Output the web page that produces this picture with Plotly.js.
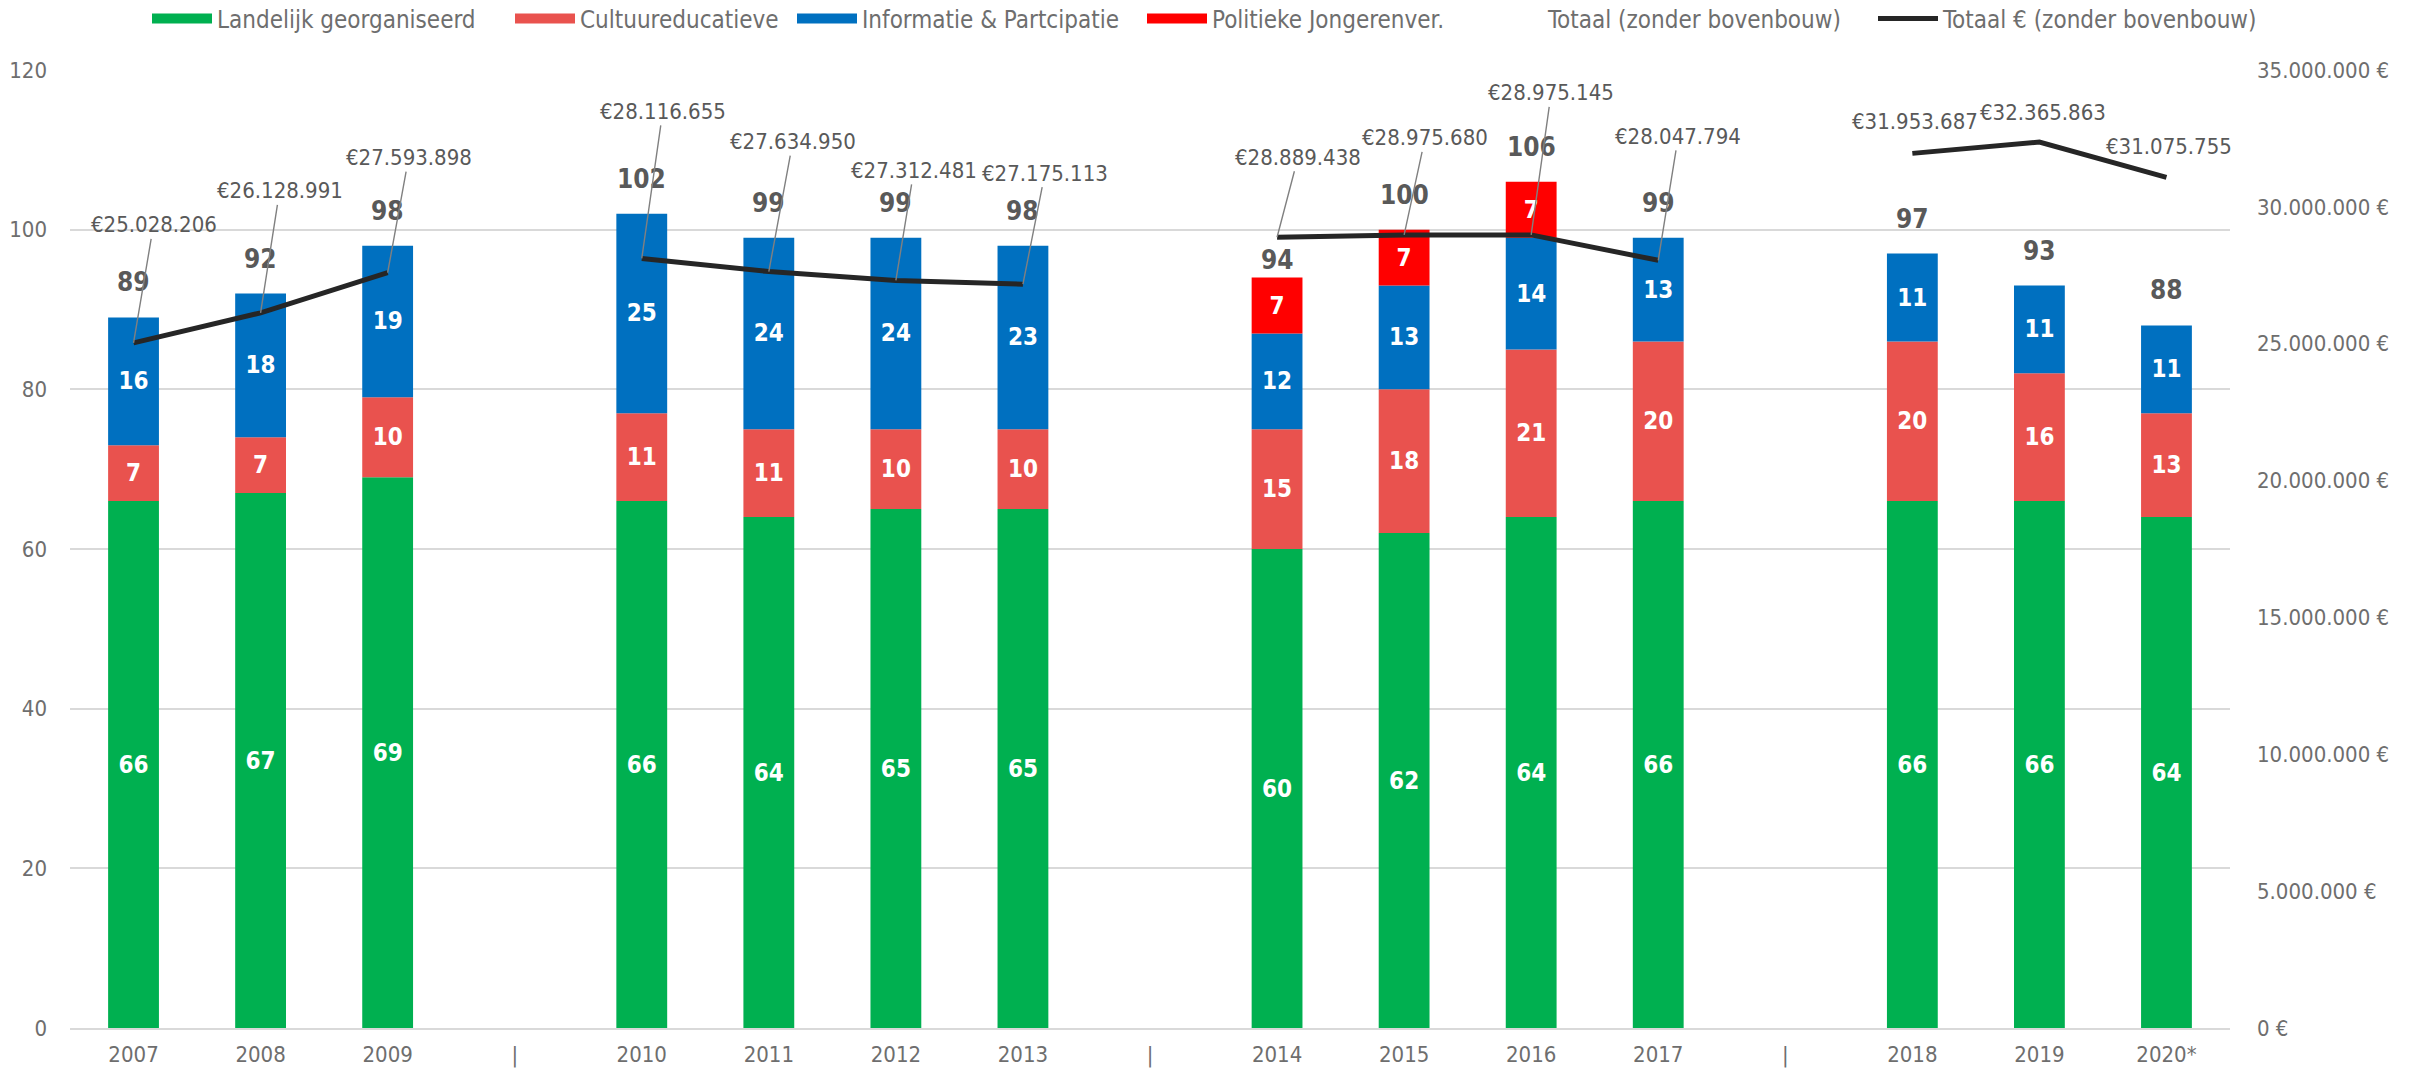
<!DOCTYPE html>
<html>
<head>
<meta charset="utf-8">
<script src="https://cdn.plot.ly/plotly-3.0.1.min.js"></script>
<style>
  html, body { margin: 0; padding: 0; background: #ffffff; }
  #chart { width: 2428px; height: 1070px; }
</style>
</head>
<body>
<div id="chart"></div>
<script>
// ---- data ----
const categories = ['2007','2008','2009','|','2010','2011','2012','2013','|','2014','2015','2016','2017','|','2018','2019','2020*'];
const landelijk  = [66, 67, 69, null, 66, 64, 65, 65, null, 60, 62, 64, 66, null, 66, 66, 64];
const cultuur    = [7, 7, 10, null, 11, 11, 10, 10, null, 15, 18, 21, 20, null, 20, 16, 13];
const informatie = [16, 18, 19, null, 25, 24, 24, 23, null, 12, 13, 14, 13, null, 11, 11, 11];
const politiek   = [null, null, null, null, null, null, null, null, null, 7, 7, 7, null, null, null, null, null];
const totaal     = [89, 92, 98, null, 102, 99, 99, 98, null, 94, 100, 106, 99, null, 97, 93, 88];
const totaalEuro = [25028206, 26128991, 27593898, null, 28116655, 27634950, 27312481, 27175113, null,
                    28889438, 28975680, 28975145, 28047794, null, 31953687, 32365863, 31075755];

const seriesNames = ['Landelijk georganiseerd', 'Cultuureducatieve', 'Informatie & Partcipatie', 'Politieke Jongerenver.',
                     'Totaal (zonder bovenbouw)', 'Totaal € (zonder bovenbouw)'];

// category positions on the axis (one slot per category label)
const xpos = categories.map((c, i) => i);

// ---- styling ----
const FONT = 'DejaVu Sans Condensed, DejaVu Sans, sans-serif';
const colors = { landelijk: '#00B050', cultuur: '#E9524E', informatie: '#0070C0', politiek: '#FF0000', line: '#262626' };
// label offsets (pixels) for the euro labels: [dx, dy, showLeader]
const euroLabelOffsets = [[20,-118,true],[19,-122,true],[21,-115,true],null,[21,-147,true],[24,-130,true],[18,-110,true],[22,-111,true],null,
                          [21,-80,true],[21,-97,true],[20,-142,true],[20,-124,true],null,[3,-32,false],[4,-30,false],[3,-31,false]];
// vertical gap (pixels) of the total labels above the bars
const totalLabelShift = [18,18,18,null,18,18,18,18,null,1,18,18,18,null,18,18,18];

function add(a, b) { return a.map((v, i) => (v == null || b[i] == null) ? v : v + b[i]); }
const baseLand = landelijk.map(v => v == null ? null : 0);
const baseCultuur = landelijk.slice();
const baseInfo = add(landelijk, cultuur);
const basePol = add(baseInfo, informatie);

function fmtEuro(v) { return '€' + String(v).replace(/\B(?=(\d{3})+(?!\d))/g, '.'); }

function segTrace(name, vals, base, color) {
  return {
    type: 'bar', name: name, x: xpos, y: vals, base: base,
    marker: { color: color, line: { width: 0 } },
    text: vals.map(v => v == null ? '' : String(v)),
    textposition: 'inside', insidetextanchor: 'middle', textangle: 0,
    constraintext: 'none',
    textfont: { family: FONT, size: 24, color: '#ffffff', weight: 'bold' },
    showlegend: false, hoverinfo: 'y+name'
  };
}
// legend-only swatch (wide rectangle like the original legend keys)
function legendKey(name, color, legend) {
  return {
    type: 'scatter', mode: 'lines', name: name, x: [null], y: [null],
    line: { color: color, width: 14 }, legend: legend, hoverinfo: 'skip'
  };
}

const traces = [
  segTrace(seriesNames[0], landelijk, baseLand, colors.landelijk),
  segTrace(seriesNames[1], cultuur, baseCultuur, colors.cultuur),
  segTrace(seriesNames[2], informatie, baseInfo, colors.informatie),
  segTrace(seriesNames[3], politiek, basePol, colors.politiek),
  {
    type: 'bar', name: seriesNames[4], x: xpos, y: totaal, base: totaal.map(v => v == null ? null : 0),
    marker: { color: 'rgba(0,0,0,0)', line: { width: 0 } },
    legend: 'legend5', hoverinfo: 'y+name'
  },
  {
    type: 'scatter', mode: 'lines', name: seriesNames[5], x: xpos, y: totaalEuro, yaxis: 'y2',
    connectgaps: false, line: { color: colors.line, width: 5 },
    legend: 'legend6', hoverinfo: 'y+name'
  },
  legendKey(seriesNames[0], colors.landelijk, 'legend'),
  legendKey(seriesNames[1], colors.cultuur, 'legend2'),
  legendKey(seriesNames[2], colors.informatie, 'legend3'),
  legendKey(seriesNames[3], colors.politiek, 'legend4')
];

const annotations = [];
xpos.forEach((xv, i) => {
  if (totaal[i] != null) {
    annotations.push({
      x: xv, y: totaal[i], xref: 'x', yref: 'y', text: String(totaal[i]),
      showarrow: false, yanchor: 'bottom', yshift: totalLabelShift[i],
      font: { family: FONT, size: 26, color: '#595959', weight: 'bold' }
    });
  }
  if (totaalEuro[i] != null) {
    const o = euroLabelOffsets[i];
    if (o[2]) {
      annotations.push({
        x: xv, y: totaalEuro[i], xref: 'x', yref: 'y2', text: fmtEuro(totaalEuro[i]),
        showarrow: true, arrowhead: 0, arrowwidth: 1.4, arrowcolor: '#808080', standoff: 0,
        ax: o[0], ay: o[1],
        font: { family: FONT, size: 22, color: '#595959' }
      });
    } else {
      annotations.push({
        x: xv, y: totaalEuro[i], xref: 'x', yref: 'y2', text: fmtEuro(totaalEuro[i]),
        showarrow: false, xshift: o[0], yshift: -o[1],
        font: { family: FONT, size: 22, color: '#595959' }
      });
    }
  }
});

function legendAt(px) {
  return {
    orientation: 'h', xref: 'container', yref: 'container',
    x: px / 2428, xanchor: 'left', y: 1 - 19 / 1070, yanchor: 'middle',
    itemwidth: 60,
    bgcolor: 'rgba(0,0,0,0)', borderwidth: 0,
    font: { family: FONT, size: 24, color: '#6e6e6e' }
  };
}

const layout = {
  width: 2428, height: 1070,
  margin: { l: 70, r: 198, t: 70, b: 42, pad: 0, autoexpand: false },
  paper_bgcolor: '#ffffff', plot_bgcolor: '#ffffff',
  barmode: 'overlay', bargap: 0.6,
  separators: ',.',
  font: { family: FONT, size: 22, color: '#6e6e6e' },
  xaxis: {
    type: 'linear', range: [-0.5, categories.length - 0.5],
    tickmode: 'array', tickvals: xpos, ticktext: categories,
    showline: true, linecolor: '#d9d9d9', linewidth: 2,
    ticks: '', showgrid: false, zeroline: false,
    ticklabelstandoff: 6,
    tickfont: { family: FONT, size: 22, color: '#6e6e6e' }
  },
  yaxis: {
    range: [0, 120], dtick: 20, tick0: 0,
    showgrid: true, gridcolor: '#d9d9d9', gridwidth: 2,
    zeroline: false, showline: false, ticks: '',
    ticklabelstandoff: 22,
    tickfont: { family: FONT, size: 22, color: '#6e6e6e' }
  },
  yaxis2: {
    overlaying: 'y', side: 'right', range: [0, 35000000], dtick: 5000000, tick0: 0,
    tickformat: ',d', ticksuffix: ' €',
    showgrid: false, zeroline: false, showline: false, ticks: '',
    ticklabelstandoff: 26,
    tickfont: { family: FONT, size: 22, color: '#6e6e6e' }
  },
  legend: legendAt(147),
  legend2: legendAt(510),
  legend3: legendAt(792),
  legend4: legendAt(1142),
  legend5: legendAt(1478),
  legend6: legendAt(1873),
  annotations: annotations,
  showlegend: true
};

Plotly.newPlot('chart', traces, layout, { displayModeBar: false, staticPlot: true });
</script>
</body>
</html>
